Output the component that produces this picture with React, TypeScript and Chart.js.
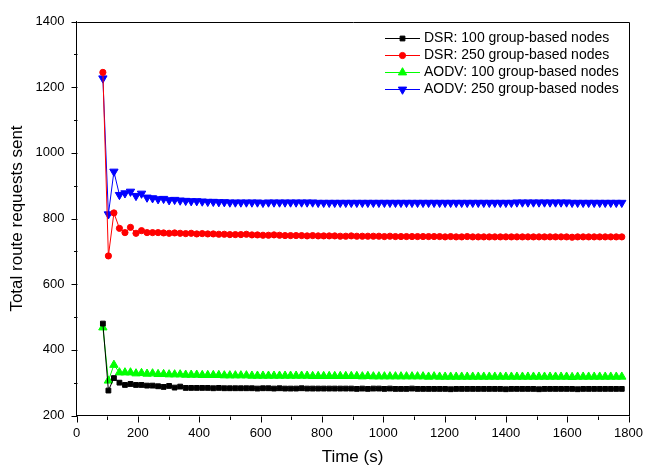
import React, { useEffect, useRef } from "react";
import { Chart, registerables } from "chart.js";

Chart.register(...registerables);

const times = [
  86, 104, 122, 140, 158, 176, 194, 212, 230, 248,
  266, 284, 302, 320, 338, 356, 374, 392, 410, 428,
  446, 464, 482, 500, 518, 536, 554, 572, 590, 608,
  626, 644, 662, 680, 698, 716, 734, 752, 770, 788,
  806, 824, 842, 860, 878, 896, 914, 932, 950, 968,
  986, 1004, 1022, 1040, 1058, 1076, 1094, 1112, 1130, 1148,
  1166, 1184, 1202, 1220, 1238, 1256, 1274, 1292, 1310, 1328,
  1346, 1364, 1382, 1400, 1418, 1436, 1454, 1472, 1490, 1508,
  1526, 1544, 1562, 1580, 1598, 1616, 1634, 1652, 1670, 1688,
  1706, 1724, 1742, 1760, 1778,
];

const dsr100 = [
  480, 276, 314, 300, 293, 296, 293, 293, 291, 291,
  289, 287, 290, 285, 288, 284, 284, 284, 284, 284,
  283, 284, 283, 283, 283, 283, 283, 283, 282, 283,
  283, 282, 283, 282, 282, 282, 283, 282, 282, 282,
  282, 282, 282, 282, 282, 282, 281, 282, 281, 282,
  282, 281, 282, 281, 281, 281, 282, 281, 281, 281,
  281, 281, 281, 280, 281, 281, 281, 281, 281, 281,
  281, 281, 281, 280, 281, 281, 281, 281, 281, 280,
  281, 281, 281, 281, 281, 281, 280, 281, 281, 281,
  281, 281, 281, 281, 281,
];

const dsr250 = [
  1245, 686, 817, 770, 757, 773, 755, 763, 757, 757,
  757, 756, 755, 756, 755, 754, 755, 753, 754, 753,
  753, 752, 752, 751, 751, 751, 752, 750, 750, 749,
  749, 750, 749, 748, 748, 748, 748, 747, 748, 747,
  747, 747, 747, 746, 746, 747, 746, 746, 746, 746,
  746, 745, 746, 745, 745, 745, 745, 745, 745, 745,
  745, 745, 744, 745, 744, 744, 745, 744, 744, 744,
  744, 744, 744, 744, 744, 744, 744, 744, 744, 744,
  744, 744, 744, 744, 744, 743, 744, 744, 744, 744,
  744, 744, 744, 744, 744,
];

const aodv100 = [
  468, 306, 354, 331, 331, 331, 328, 329, 327, 328,
  326, 326, 325, 325, 325, 324, 324, 324, 323, 323,
  323, 323, 322, 322, 322, 322, 322, 321, 321, 321,
  321, 321, 321, 321, 321, 321, 321, 321, 320, 320,
  320, 320, 320, 320, 320, 320, 320, 319, 320, 319,
  319, 319, 319, 319, 319, 319, 319, 319, 319, 318,
  319, 318, 318, 318, 318, 318, 318, 318, 318, 318,
  318, 318, 318, 318, 318, 318, 318, 318, 318, 318,
  318, 318, 318, 318, 318, 317, 318, 318, 318, 318,
  318, 318, 318, 318, 318,
];

const aodv250 = [
  1227, 813, 943, 872, 877, 882, 869, 876, 864, 862,
  859, 860, 856, 857, 855, 854, 853, 853, 852, 851,
  851, 850, 850, 849, 849, 849, 849, 849, 849, 848,
  849, 849, 849, 849, 849, 849, 849, 849, 849, 848,
  848, 848, 848, 848, 848, 848, 848, 848, 848, 848,
  848, 848, 848, 848, 848, 848, 848, 848, 848, 848,
  848, 848, 848, 848, 848, 848, 848, 848, 848, 848,
  848, 848, 848, 848, 848, 849, 849, 849, 849, 849,
  849, 849, 849, 849, 849, 848, 848, 848, 848, 848,
  848, 848, 848, 848, 848,
];

const seriesLabels = [
  "DSR: 100 group-based nodes",
  "DSR: 250 group-based nodes",
  "AODV: 100 group-based nodes",
  "AODV: 250 group-based nodes",
];
const seriesColors = ["#000000", "#ff0000", "#00ff00", "#0000ff"];
const seriesStyles = ["rect", "circle", "triangle", "triangle"];
const seriesRadius = [3.4, 3.1, 4.8, 4.8];
const seriesRotation = [0, 0, 0, 180];
const seriesValues = [dsr100, dsr250, aodv100, aodv250];

const xTicks = [0, 200, 400, 600, 800, 1000, 1200, 1400, 1600, 1800];
const xMinor = [100, 300, 500, 700, 900, 1100, 1300, 1500, 1700];
const yTicks = [200, 400, 600, 800, 1000, 1200, 1400];
const yMinor = [300, 500, 700, 900, 1100, 1300];

const FONT = 'Arial, "Liberation Sans", Helvetica, sans-serif';

function drawMarker(ctx: CanvasRenderingContext2D, style: string, x: number, y: number, r: number, rot: number) {
  ctx.beginPath();
  if (style === "circle") {
    ctx.arc(x, y, r, 0, Math.PI * 2);
  } else if (style === "rect") {
    const s = Math.SQRT1_2 * r;
    ctx.rect(x - s, y - s, 2 * s, 2 * s);
  } else {
    let rad = (rot * Math.PI) / 180;
    const step = (2 * Math.PI) / 3;
    ctx.moveTo(x + Math.sin(rad) * r, y - Math.cos(rad) * r);
    rad += step;
    ctx.lineTo(x + Math.sin(rad) * r, y - Math.cos(rad) * r);
    rad += step;
    ctx.lineTo(x + Math.sin(rad) * r, y - Math.cos(rad) * r);
  }
  ctx.closePath();
  ctx.fill();
  ctx.stroke();
}

const framePlugin = {
  id: "originFrame",
  afterDraw(chart: any) {
    const { ctx, chartArea, scales } = chart;
    const { left, right, top, bottom } = chartArea;
    ctx.save();
    ctx.strokeStyle = "#000";
    ctx.lineWidth = 1;
    ctx.beginPath();
    ctx.moveTo(Math.round(left) + 0.5, Math.round(top) + 0.5);
    ctx.lineTo(Math.round(right) + 0.5, Math.round(top) + 0.5);
    ctx.lineTo(Math.round(right) + 0.5, Math.round(bottom) + 0.5);
    ctx.stroke();
    const bY = Math.round(bottom) + 0.5;
    const lX = Math.round(left) + 0.5;
    ctx.beginPath();
    xTicks.forEach((v) => {
      const px = Math.round(scales.x.getPixelForValue(v)) + 0.5;
      ctx.moveTo(px, bY);
      ctx.lineTo(px, bY + 6);
    });
    xMinor.forEach((v) => {
      const px = Math.round(scales.x.getPixelForValue(v)) + 0.5;
      ctx.moveTo(px, bY);
      ctx.lineTo(px, bY + 3.5);
    });
    yTicks.forEach((v) => {
      const py = Math.round(scales.y.getPixelForValue(v)) + 0.5;
      ctx.moveTo(lX, py);
      ctx.lineTo(lX - 6, py);
    });
    yMinor.forEach((v) => {
      const py = Math.round(scales.y.getPixelForValue(v)) + 0.5;
      ctx.moveTo(lX, py);
      ctx.lineTo(lX - 3.5, py);
    });
    ctx.stroke();

    // legend
    const lineX0 = 385;
    const lineX1 = 420;
    const markX = 402.5;
    const textX = 424;
    const rowY = [38, 55, 72, 89];
    ctx.font = `14px ${FONT}`;
    ctx.textBaseline = "middle";
    ctx.textAlign = "left";
    seriesLabels.forEach((label, i) => {
      const y = rowY[i] + 0.5;
      ctx.strokeStyle = seriesColors[i];
      ctx.fillStyle = seriesColors[i];
      ctx.lineWidth = 1;
      ctx.beginPath();
      ctx.moveTo(lineX0, y);
      ctx.lineTo(lineX1, y);
      ctx.stroke();
      drawMarker(ctx, seriesStyles[i], markX, y, seriesRadius[i], seriesRotation[i]);
      ctx.fillStyle = "#000";
      ctx.fillText(label, textX, y);
    });
    ctx.restore();
  },
};

export default function App() {
  const canvasRef = useRef<HTMLCanvasElement | null>(null);

  useEffect(() => {
    if (!canvasRef.current) return;
    const chart = new Chart(canvasRef.current, {
      type: "line",
      data: {
        datasets: seriesLabels.map((label, i) => ({
          label,
          data: times.map((t, j) => ({ x: t, y: seriesValues[i][j] })),
          borderColor: seriesColors[i],
          backgroundColor: seriesColors[i],
          borderWidth: 1,
          pointStyle: seriesStyles[i] as any,
          pointRadius: seriesRadius[i],
          pointRotation: seriesRotation[i],
          pointBorderWidth: 1,
          pointBorderColor: seriesColors[i],
          pointBackgroundColor: seriesColors[i],
          tension: 0,
        })),
      },
      options: {
        animation: false,
        responsive: false,
        devicePixelRatio: 1,
        layout: { padding: { top: 21.5, right: 15.5, left: 0, bottom: 0 } },
        plugins: {
          legend: { display: false },
          tooltip: { enabled: false },
        },
        scales: {
          x: {
            type: "linear",
            min: 0,
            max: 1800,
            grid: { display: false, drawTicks: false },
            border: { display: true, color: "#000", width: 1 },
            ticks: {
              stepSize: 200,
              color: "#000",
              padding: 10,
              font: { family: FONT, size: 13 },
              maxRotation: 0,
              callback: (v: any) => String(v),
            },
            title: {
              display: true,
              text: "Time (s)",
              color: "#000",
              font: { family: FONT, size: 17, lineHeight: 1 },
              padding: 0,
            },
            afterFit: (scale: any) => {
              scale.height = 50.5;
            },
          },
          y: {
            type: "linear",
            min: 200,
            max: 1400,
            grid: { display: false, drawTicks: false },
            border: { display: true, color: "#000", width: 1 },
            ticks: {
              stepSize: 200,
              color: "#000",
              padding: 12,
              font: { family: FONT, size: 13 },
              callback: (v: any) => String(v),
            },
            title: {
              display: true,
              text: "Total route requests sent",
              color: "#000",
              font: { family: FONT, size: 17, lineHeight: 1 },
              padding: { top: 8.5, bottom: 0 },
            },
            afterFit: (scale: any) => {
              scale.width = 76.5;
            },
          },
        },
      },
      plugins: [framePlugin],
    });
    return () => chart.destroy();
  }, []);

  return (
    <div style={{ position: "fixed", left: 0, top: 0, width: 653, height: 466, background: "#fff" }}>
      <canvas ref={canvasRef} width={653} height={466} style={{ width: 653, height: 466, display: "block" }} />
    </div>
  );
}
